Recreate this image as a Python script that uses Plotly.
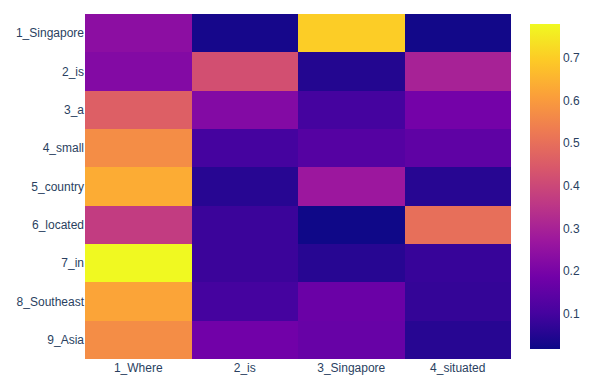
import plotly.graph_objects as go

x_labels = ["1_Where", "2_is", "3_Singapore", "4_situated"]
y_labels = ["1_Singapore", "2_is", "3_a", "4_small", "5_country",
            "6_located", "7_in", "8_Southeast", "9_Asia"]

row_1_singapore = [0.238, 0.030, 0.700, 0.025]
row_2_is = [0.220, 0.420, 0.050, 0.300]
row_3_a = [0.460, 0.220, 0.100, 0.190]
row_4_small = [0.570, 0.100, 0.130, 0.150]
row_5_country = [0.635, 0.055, 0.270, 0.055]
row_6_located = [0.370, 0.085, 0.020, 0.500]
row_7_in = [0.779, 0.085, 0.055, 0.080]
row_8_southeast = [0.620, 0.100, 0.170, 0.075]
row_9_asia = [0.570, 0.185, 0.165, 0.055]

z = [row_1_singapore, row_2_is, row_3_a, row_4_small, row_5_country,
     row_6_located, row_7_in, row_8_southeast, row_9_asia]

fig = go.Figure(go.Heatmap(
    z=z, x=x_labels, y=y_labels,
    colorscale="Plasma",
    zmin=0.017, zmax=0.779,
    colorbar=dict(tickvals=[0.1, 0.2, 0.3, 0.4, 0.5, 0.6, 0.7]),
))
fig.update_layout(
    width=605, height=391,
    font=dict(family="Liberation Sans, Arial, sans-serif"),
    margin=dict(l=77, r=102, t=6, b=40),
    yaxis=dict(autorange="reversed"),
)
fig.write_html("out.html")
